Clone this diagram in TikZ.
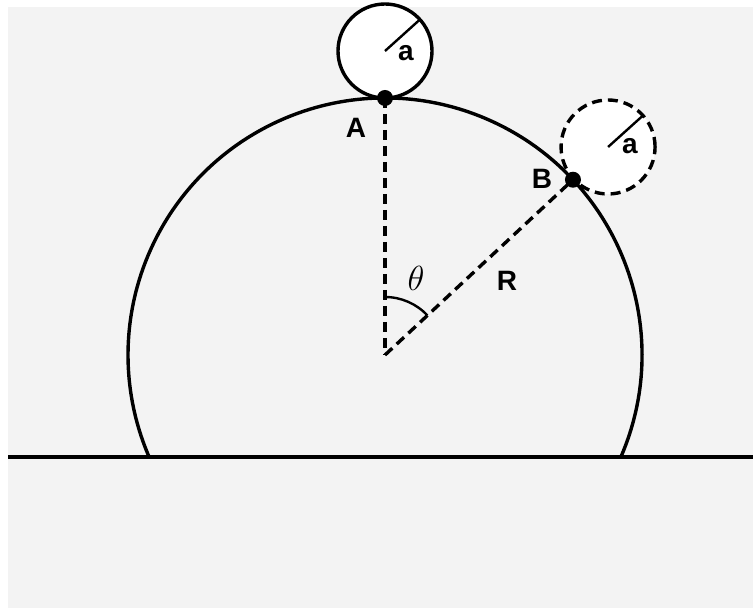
\documentclass[tikz,border=0pt]{standalone}
\usepackage{fontspec}
\setsansfont{Liberation Sans}
\usetikzlibrary{calc}
\definecolor{bgcol}{HTML}{F3F3F3}
\tikzset{
  stroke/.style={line width=3.4pt, draw=black},
  dashline/.style={line width=3.4pt, draw=black, dash pattern=on 10pt off 6pt},
  smallcirc/.style={circle, minimum size=94pt, inner sep=0pt, fill=white},
  dot/.style={circle, fill=black, minimum size=16pt, inner sep=0pt},
  lbl/.style={font=\sffamily\bfseries\fontsize{28}{32}\selectfont, inner sep=0pt},
}
\begin{document}
\begin{tikzpicture}[x=1pt,y=1pt]
\useasboundingbox (0,0) rectangle (753,608);
\fill[white] (0,0) rectangle (753,608);
\fill[bgcol] (8,0) rectangle (753,601);
% key points
\coordinate (O) at (385,253);
\coordinate (A) at (385,510);
\coordinate (B) at ($(O)+(43:257)$);
\coordinate (Gl) at (8,151);
\coordinate (Gr) at (753,151);
% big circle arc above the ground
\draw[stroke] (O) ++(-23.4:257) arc[start angle=-23.4, end angle=203.4, radius=257];
\draw[stroke] (Gl) -- (Gr);
% radii
\draw[dashline] (A) -- (O);
\draw[dashline] (O) -- (B);
% angle arc
\draw[line width=2.4pt] (O) ++(90:58) arc[start angle=90, end angle=43, radius=58];
% small circle at top
\node[smallcirc, stroke] (C1) at (385,557) {};
\coordinate (C1e) at ($(C1.center)+(42:46)$);
\draw[line width=2.4pt] (C1.center) -- (C1e);
\node[lbl] (a1) at (406,555) {a};
% dashed small circle at B
\node[smallcirc, dashline] (C2) at ($(O)+(43:305)$) {};
\coordinate (C2e) at ($(C2.center)+(42:46)$);
\draw[line width=2.4pt] (C2.center) -- (C2e);
\node[lbl] (a2) at (630,462) {a};
% points
\node[dot] (dA) at (A) {};
\node[dot] (dB) at (B) {};
% labels
\node[lbl] (lA) at (356,480) {A};
\node[lbl] (lB) at (542,429) {B};
\node[lbl] (lR) at (507,327) {R};
\node[inner sep=0pt, font=\fontsize{24}{28}\selectfont] (lt) at (416,330) {\scalebox{1.4}{$\theta$}};
\end{tikzpicture}
\end{document}
